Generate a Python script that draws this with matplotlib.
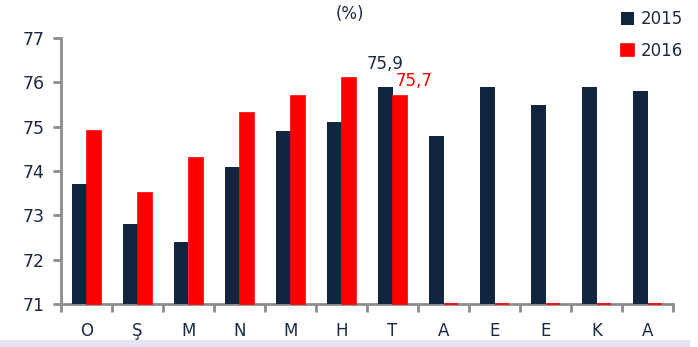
import matplotlib.pyplot as plt
import matplotlib.patches as mpatches
import numpy as np

months = ["O", "Ş", "M", "N", "M", "H", "T", "A", "E", "E", "K", "A"]
y2015 = [73.7, 72.8, 72.4, 74.1, 74.9, 75.1, 75.9, 74.8, 75.9, 75.5, 75.9, 75.8]
y2016 = [74.9, 73.5, 74.3, 75.3, 75.7, 76.1, 75.7, 71.0, 71.0, 71.0, 71.0, 71.0]

navy = "#12253f"
red = "#ff0000"
txt = "#1a2a45"
base = 71

plt.rcParams['font.family'] = ['DejaVu Sans']

fig = plt.figure(figsize=(6.98, 3.47), dpi=100)
fig.patches.append(mpatches.Rectangle((0, 0), 689/698, 7/347, transform=fig.transFigure,
                                      color="#e4e4f4", zorder=0))
ax = fig.add_axes([61/698, 43/347, 612/698, 266/347])

x = np.arange(len(months))
w = 0.29
h15 = np.array(y2015) - base
h16 = np.array(y2016) - base
ax.bar(x - w/2, h15, w, bottom=base, color=navy, label="2015", zorder=3)
bars16 = ax.bar(x + w/2, h16, w, bottom=base, color=red, edgecolor=red, linewidth=1.2,
                label="2016", zorder=3)
for b in bars16:
    b.set_clip_on(False)

ax.set_xlim(-0.5, len(months) - 0.5)
ax.set_ylim(71, 77)
ax.set_yticks([71, 72, 73, 74, 75, 76, 77])
ax.set_xticks(x)
ax.set_xticklabels(months)
ax.set_xticks(np.arange(-0.5, len(months)), minor=True)

for s in ["top", "right"]:
    ax.spines[s].set_visible(False)
for s in ["left", "bottom"]:
    ax.spines[s].set_color("#8c8c8c")
    ax.spines[s].set_linewidth(2)
ax.tick_params(axis="y", length=6, width=2, color="#8c8c8c", labelsize=12.5,
               labelcolor=txt, pad=6)
ax.tick_params(axis="x", which="major", length=0, labelsize=12, labelcolor=txt, pad=13)
ax.tick_params(axis="x", which="minor", length=6, width=2, color="#8c8c8c")

i = 6
ax.annotate("75,9", (x[i] - w/2, y2015[i]), xytext=(0, 10), textcoords="offset points",
            ha="center", va="bottom", fontsize=12, color=txt)
ax.annotate("75,7", (x[i] + w/2, y2016[i]), xytext=(10, 4), textcoords="offset points",
            ha="center", va="bottom", fontsize=12, color=red)

fig.text(350/698, 1 - 14/347, "(%)", ha="center", va="center", fontsize=12, color=txt)

leg = ax.legend(loc="upper left", bbox_to_anchor=(0.89, 1.16), frameon=False,
                fontsize=12, handlelength=0.8, handleheight=0.8, handletextpad=0.4,
                labelspacing=0.8)
for t in leg.get_texts():
    t.set_color(txt)

plt.savefig("out.png", dpi=100)
